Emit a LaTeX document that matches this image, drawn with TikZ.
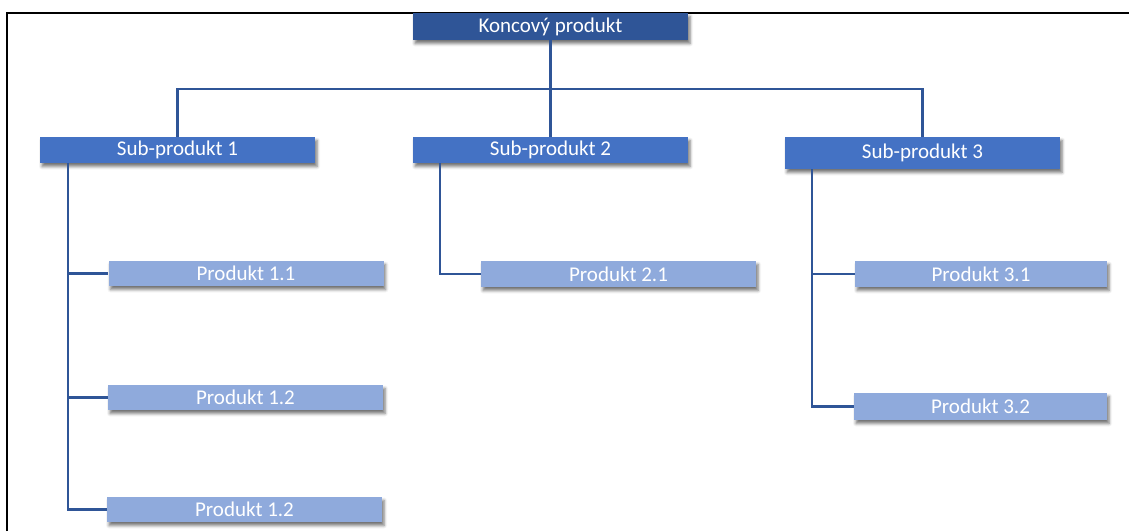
\documentclass[tikz,border=0pt]{standalone}
\usepackage{fontspec}
\setmainfont{Carlito}
\usetikzlibrary{shadows.blur,calc}
\definecolor{topblue}{HTML}{2F5597}
\definecolor{subblue}{HTML}{4472C4}
\definecolor{prodblue}{HTML}{8FAADC}
\definecolor{linkblue}{HTML}{2F5597}
\tikzset{
  box/.style={rectangle, inner sep=0pt, minimum width=275pt, minimum height=26pt,
    text=white, font=\fontsize{21}{24}\selectfont,
    blur shadow={shadow xshift=2pt, shadow yshift=-3.5pt, shadow blur radius=3pt, shadow opacity=55}},
  topbox/.style={box, fill=topblue},
  subbox/.style={box, fill=subblue},
  prodbox/.style={box, fill=prodblue},
  link/.style={draw=linkblue, line width=2.2pt},
}
\begin{document}
\begin{tikzpicture}[x=1pt,y=-1pt]
  \useasboundingbox (0,0) rectangle (1129,531);
  % frame
  \draw[line width=2pt] (6.5,531) -- (6.5,13) -- (1129,13);

  % boxes
  \node[topbox, minimum height=27pt] (top) at (550.5,26.5) {Koncový produkt};
  \node[subbox] (s1) at (177.5,150) {Sub-produkt 1};
  \node[subbox] (s2) at (550.5,150) {Sub-produkt 2};
  \node[subbox, minimum height=32pt] (s3) at (922.5,153) {Sub-produkt 3};

  \node[prodbox, minimum height=25pt] (p11) at (246,273.5) {Produkt 1.1};
  \node[prodbox, minimum height=25pt] (p12a) at (245.5,397.5) {Produkt 1.2};
  \node[prodbox, minimum height=25pt] (p12b) at (244.5,509.5) {Produkt 1.2};
  \node[prodbox] (p21) at (618.5,274) {Produkt 2.1};
  \node[prodbox, minimum width=252pt] (p31) at (981,274) {Produkt 3.1};
  \node[prodbox, minimum width=253pt, minimum height=27pt] (p32) at (980.5,406.5) {Produkt 3.2};

  % top level bus
  \coordinate (bus) at (550.5,89);
  \path[link] (top.south) -- (s2.north);
  \path[link] (s1.north) |- (bus) -| (s3.north);

  % sub-product spines
  \coordinate (sp1) at ($(s1.south west)+(28,0)$);
  \coordinate (sp2) at ($(s2.south west)+(27,0)$);
  \coordinate (sp3) at ($(s3.south west)+(27,0)$);
  \path[link] (sp1) |- (p11.west);
  \path[link] (sp1) |- (p12a.west);
  \path[link] (sp1) |- (p12b.west);
  \path[link] (sp2) |- (p21.west);
  \path[link] (sp3) |- (p31.west);
  \path[link] (sp3) |- (p32.west);
\end{tikzpicture}
\end{document}
